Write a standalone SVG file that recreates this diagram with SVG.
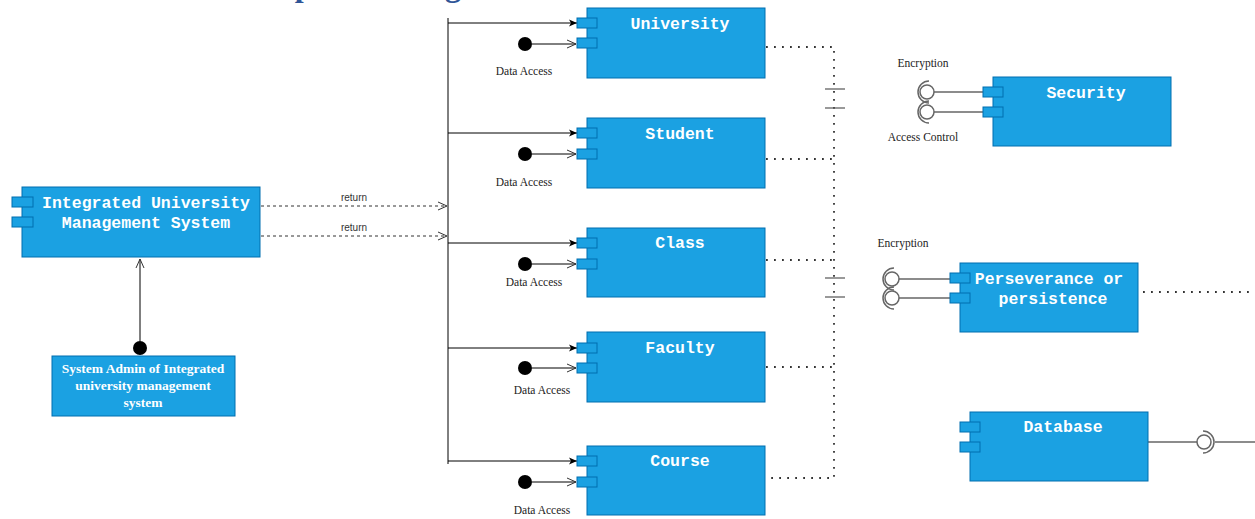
<svg xmlns="http://www.w3.org/2000/svg" width="1255" height="519" viewBox="0 0 1255 519">
  <defs>
    <style>
      .box { fill: #1ba1e2; stroke: #006eaf; stroke-width: 1; }
      .port { fill: #1ba1e2; stroke: #006eaf; stroke-width: 1; }
      .cname { font-family: "Liberation Mono", "DejaVu Sans Mono", monospace; font-weight: bold; font-size: 16.5px; fill: #ffffff; text-anchor: middle; }
      .admin { font-family: "Liberation Serif", "DejaVu Serif", serif; font-weight: bold; font-size: 13.5px; fill: #ffffff; text-anchor: middle; }
      .lbl { font-family: "Liberation Serif", "DejaVu Serif", serif; font-size: 11.5px; fill: #222222; text-anchor: middle; }
      .ret { font-family: "Liberation Sans", Arial, sans-serif; font-size: 10px; fill: #333333; text-anchor: middle; }
      .title { font-family: "Liberation Serif", "DejaVu Serif", serif; font-weight: bold; font-size: 32px; fill: #2f5597; }
      .solid { fill: none; stroke: #000000; stroke-width: 1; }
      .dash { fill: none; stroke: #333333; stroke-width: 1; stroke-dasharray: 3 3; }
      .dots { fill: none; stroke: #333333; stroke-width: 1.8; stroke-dasharray: 1.8 6.2; }
      .iface { fill: none; stroke: #666666; stroke-width: 1.5; }
      .ball { fill: #000000; }
    </style>
    <marker id="tri" markerUnits="userSpaceOnUse" markerWidth="10" markerHeight="10" refX="9" refY="5" orient="auto">
      <path d="M1,1.5 L9,5 L1,8.5 L3,5 Z" fill="#000000"/>
    </marker>
    <marker id="vee" markerUnits="userSpaceOnUse" markerWidth="12" markerHeight="12" refX="10" refY="6" orient="auto">
      <path d="M1,2 L10,6 L1,10" fill="none" stroke="#333333" stroke-width="1"/>
    </marker>
  </defs>

  <rect width="1255" height="519" fill="#ffffff"/>

  <!-- heading, mostly above the top edge -->
  <text class="title" x="229" y="-4">Component Diagram</text>

  <!-- connectors -->
  <g id="connectors">
    <!-- returns from the main system to the bus -->
    <line class="dash" x1="261" y1="206" x2="447" y2="206" marker-end="url(#vee)"/>
    <line class="dash" x1="261" y1="236" x2="447" y2="236" marker-end="url(#vee)"/>
    <text class="ret" x="354" y="201">return</text>
    <text class="ret" x="354" y="231">return</text>

    <!-- bus -->
    <line class="solid" x1="448" y1="18" x2="448" y2="464"/>
    <line class="solid" x1="448" y1="23" x2="577" y2="23" marker-end="url(#tri)"/>
    <line class="solid" x1="448" y1="133" x2="577" y2="133" marker-end="url(#tri)"/>
    <line class="solid" x1="448" y1="243" x2="577" y2="243" marker-end="url(#tri)"/>
    <line class="solid" x1="448" y1="348" x2="577" y2="348" marker-end="url(#tri)"/>
    <line class="solid" x1="448" y1="461" x2="577" y2="461" marker-end="url(#tri)"/>

    <!-- data access provided interfaces -->
    <circle class="ball" cx="525" cy="44" r="7"/>
    <line class="solid" x1="532" y1="44" x2="576" y2="44" marker-end="url(#vee)"/>
    <text class="lbl" x="524" y="75">Data Access</text>

    <circle class="ball" cx="525" cy="154" r="7"/>
    <line class="solid" x1="532" y1="154" x2="576" y2="154" marker-end="url(#vee)"/>
    <text class="lbl" x="524" y="186">Data Access</text>

    <circle class="ball" cx="525" cy="264" r="7"/>
    <line class="solid" x1="532" y1="264" x2="576" y2="264" marker-end="url(#vee)"/>
    <text class="lbl" x="534" y="286">Data Access</text>

    <circle class="ball" cx="525" cy="368" r="7"/>
    <line class="solid" x1="532" y1="368" x2="576" y2="368" marker-end="url(#vee)"/>
    <text class="lbl" x="542" y="394">Data Access</text>

    <circle class="ball" cx="525" cy="482" r="7"/>
    <line class="solid" x1="532" y1="482" x2="576" y2="482" marker-end="url(#vee)"/>
    <text class="lbl" x="542" y="514">Data Access</text>

    <!-- admin to main system -->
    <circle class="ball" cx="140" cy="348" r="7"/>
    <line class="solid" x1="140" y1="341" x2="140" y2="259" marker-end="url(#vee)"/>

    <!-- dotted links from the components -->
    <polyline class="dots" points="766,47 834,47 834,478 766,478"/>
    <line class="dots" x1="766" y1="159" x2="834" y2="159"/>
    <line class="dots" x1="766" y1="260" x2="834" y2="260"/>
    <line class="dots" x1="766" y1="367" x2="834" y2="367"/>
    <line x1="825" y1="89" x2="845" y2="89" stroke="#555555" stroke-width="1.2"/>
    <line x1="825" y1="108" x2="845" y2="108" stroke="#555555" stroke-width="1.2"/>
    <line x1="825" y1="278" x2="845" y2="278" stroke="#555555" stroke-width="1.2"/>
    <line x1="825" y1="297" x2="845" y2="297" stroke="#555555" stroke-width="1.2"/>

    <!-- security interfaces -->
    <line class="iface" x1="934" y1="92" x2="983" y2="92"/>
    <line class="iface" x1="934" y1="112" x2="983" y2="112"/>
    <circle class="iface" cx="927" cy="92" r="7"/>
    <circle class="iface" cx="927" cy="112" r="7"/>
    <path class="iface" d="M929,81 A11,11 0 0 0 929,103"/>
    <path class="iface" d="M929,101 A11,11 0 0 0 929,123"/>
    <text class="lbl" x="923" y="67">Encryption</text>
    <text class="lbl" x="923" y="141">Access Control</text>

    <!-- persistence interfaces -->
    <line class="iface" x1="899" y1="279" x2="950" y2="279"/>
    <line class="iface" x1="899" y1="298" x2="950" y2="298"/>
    <circle class="iface" cx="892" cy="279" r="7"/>
    <circle class="iface" cx="892" cy="298" r="7"/>
    <path class="iface" d="M894,268 A11,11 0 0 0 894,290"/>
    <path class="iface" d="M894,287 A11,11 0 0 0 894,309"/>
    <text class="lbl" x="903" y="247">Encryption</text>
    <line class="dots" x1="1143" y1="292" x2="1255" y2="292"/>

    <!-- database interface -->
    <line class="iface" x1="1148" y1="442" x2="1197" y2="442"/>
    <circle class="iface" cx="1204" cy="442" r="7"/>
    <path class="iface" d="M1203,431 A11,11 0 0 1 1203,453"/>
    <line class="iface" x1="1215" y1="442" x2="1255" y2="442"/>
  </g>

  <!-- main system -->
  <g id="main-system">
    <rect class="box" x="22" y="187" width="238" height="70"/>
    <rect class="port" x="12" y="197" width="21" height="10"/>
    <rect class="port" x="12" y="217" width="21" height="10"/>
    <text class="cname" x="146" y="208">Integrated University</text>
    <text class="cname" x="146" y="228">Management System</text>
  </g>

  <!-- administrator -->
  <g id="admin">
    <rect class="box" x="52" y="356" width="183" height="60"/>
    <text class="admin" x="143" y="373">System Admin of Integrated</text>
    <text class="admin" x="143" y="390">university management</text>
    <text class="admin" x="143" y="407">system</text>
  </g>

  <g id="university">
    <rect class="box" x="587" y="8" width="178" height="70"/>
    <rect class="port" x="577" y="18" width="20" height="10"/>
    <rect class="port" x="577" y="38" width="20" height="10"/>
    <text class="cname" x="680" y="29">University</text>
  </g>

  <g id="student">
    <rect class="box" x="587" y="118" width="178" height="70"/>
    <rect class="port" x="577" y="128" width="20" height="10"/>
    <rect class="port" x="577" y="149" width="20" height="10"/>
    <text class="cname" x="680" y="139">Student</text>
  </g>

  <g id="class">
    <rect class="box" x="587" y="228" width="178" height="69"/>
    <rect class="port" x="577" y="238" width="20" height="10"/>
    <rect class="port" x="577" y="259" width="20" height="10"/>
    <text class="cname" x="680" y="248">Class</text>
  </g>

  <g id="faculty">
    <rect class="box" x="587" y="332" width="178" height="70"/>
    <rect class="port" x="577" y="343" width="20" height="10"/>
    <rect class="port" x="577" y="363" width="20" height="10"/>
    <text class="cname" x="680" y="353">Faculty</text>
  </g>

  <g id="course">
    <rect class="box" x="587" y="446" width="178" height="69"/>
    <rect class="port" x="577" y="456" width="20" height="10"/>
    <rect class="port" x="577" y="477" width="20" height="10"/>
    <text class="cname" x="680" y="466">Course</text>
  </g>

  <g id="security">
    <rect class="box" x="993" y="77" width="178" height="69"/>
    <rect class="port" x="983" y="87" width="20" height="10"/>
    <rect class="port" x="983" y="107" width="20" height="10"/>
    <text class="cname" x="1086" y="98">Security</text>
  </g>

  <g id="persistence">
    <rect class="box" x="960" y="263" width="178" height="69"/>
    <rect class="port" x="950" y="273" width="20" height="10"/>
    <rect class="port" x="950" y="293" width="20" height="10"/>
    <text class="cname" x="1049" y="284">Perseverance or</text>
    <text class="cname" x="1053" y="304">persistence</text>
  </g>

  <g id="database">
    <rect class="box" x="970" y="412" width="178" height="69"/>
    <rect class="port" x="960" y="422" width="20" height="10"/>
    <rect class="port" x="960" y="442" width="20" height="10"/>
    <text class="cname" x="1063" y="432">Database</text>
  </g>
</svg>
